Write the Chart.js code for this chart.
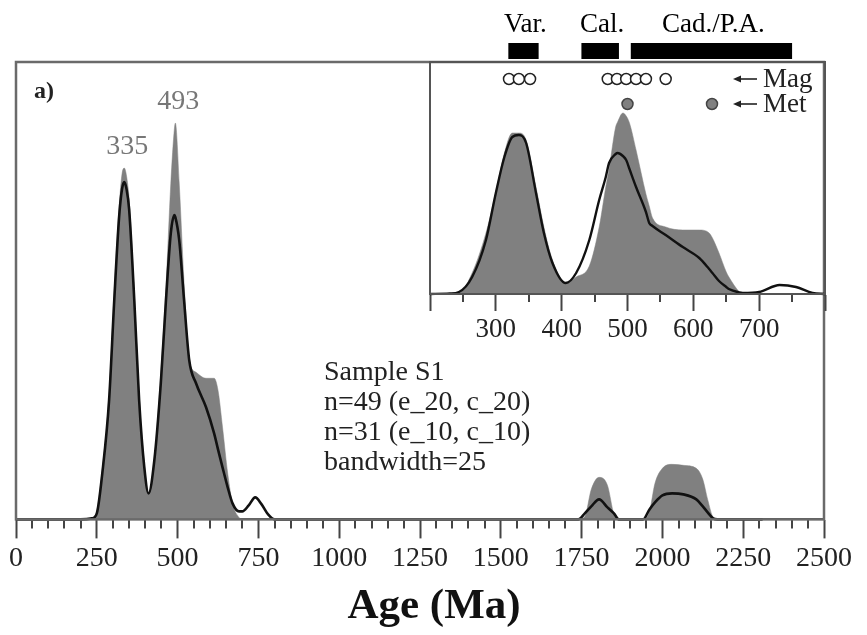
<!DOCTYPE html>
<html>
<head>
<meta charset="utf-8">
<script src="https://cdn.jsdelivr.net/npm/chart.js@4.4.1/dist/chart.umd.min.js"></script>
<style>
  body { margin: 0; background: #fff; }
  #wrap { position: relative; width: 867px; height: 635px; }
  #wrap canvas { position: absolute; left: 0; top: 0; }
</style>
</head>
<body>
<div id="wrap">
  <canvas id="mainChart" width="867" height="635"></canvas>
  <canvas id="insetChart" width="867" height="635"></canvas>
</div>
<script>
// main panel (0-2500 Ma), relative density, arbitrary units
const mainAges  = [0, 200, 235, 250, 267, 288, 304, 319, 328, 335, 342, 350, 366, 381, 397, 410, 428, 448, 464, 479, 490, 493, 505, 520, 536, 557, 588, 613, 625, 639, 655, 670, 690, 700, 720, 740, 760, 780, 800, 1740, 1760, 1780, 1804, 1830, 1850, 1865, 1940, 1960, 1977, 2000, 2030, 2065, 2105, 2125, 2140, 2157, 2170, 2310];
const mainGrey  = [0, 0, 0, 8, 50, 125, 228, 312, 345, 351, 343, 320, 225, 124, 55, 26, 60, 146, 232, 336, 390, 396, 336, 236, 159, 147, 141, 141, 129, 92, 46, 16, 2, 0, 0, 0, 0, 0, 0, 0, 3, 30, 42, 34, 5, 0, 0, 8, 36, 51, 55, 54, 51, 40, 20, 2, 0, 0];
const mainBlack = [0, 0, 1, 6, 46, 119, 219, 302, 330, 337, 330, 310, 219, 119, 52, 26, 59, 136, 219, 286, 304, 302, 279, 219, 159, 136, 112, 86, 70, 52, 32, 16, 8, 8, 14, 22, 15, 5, 0, 0, 6, 13, 20, 12, 6, 0, 0, 10, 17, 24, 26, 25, 20, 13, 7, 1, 0, 0];
const mainTickValues = [0, 250, 500, 750, 1000, 1250, 1500, 1750, 2000, 2250, 2500];
const peakAges = [335, 493];
const peakLabels = ['335', '493'];
const sampleLines = ['Sample S1', 'n=49 (e_20, c_20)', 'n=31 (e_10, c_10)', 'bandwidth=25'];

// inset (200-800 Ma)
const insetAges  = [200, 230, 244, 264, 285, 300, 313, 325, 335, 346, 361, 373, 386, 406, 422, 442, 457, 467, 472, 482, 485, 493, 498, 503, 513, 528, 533, 538, 558, 584, 609, 624, 629, 639, 650, 654, 670, 675, 700, 731, 756, 781, 800];
const insetGrey  = [0, 0.5, 1, 21, 61, 102, 141, 161, 161, 154, 107, 67, 34, 11, 17, 28, 67, 107, 125, 167, 172, 181, 178, 171, 144, 100, 88, 76, 67, 64, 64, 61, 56, 41, 22, 17, 2, 0, 0, 0, 0, 0, 0];
const insetBlack = [0, 0.5, 2, 17, 54, 101, 137, 157, 159, 151, 101, 61, 31, 11, 21, 54, 94, 117, 131, 140, 141, 138, 134, 125, 107, 82, 71, 68, 59, 47, 36, 25, 21, 13, 7, 5, 1.5, 1, 2, 9, 7, 1, 0];
const insetTickValues = [200, 300, 400, 500, 600, 700, 800];
const magAges = [320, 335, 352, 470, 484, 498, 513, 528, 558];
const metAges = [500];
const provinces = ['Var.', 'Cal.', 'Cad./P.A.'];
const provinceStart = [319, 430, 505];
const provinceEnd = [365, 487, 750];

const GREY = '#808080';
const SERIF = "'Liberation Serif', 'Times New Roman', serif";
Chart.defaults.font.family = SERIF;
Chart.defaults.color = '#222';

function pts(xs, ys) {
    return xs.map((x, i) => ({ x: x, y: ys[i] }));
}

const mainDecor = {
    id: 'mainDecor',
    afterDraw(chart) {
        const ctx = chart.ctx;
        const a = chart.chartArea;
        const xs = chart.scales.x;
        ctx.save();
        // minor ticks every 50 Ma
        ctx.strokeStyle = '#444';
        ctx.lineWidth = 2;
        for (let v = 50; v < 2500; v += 50) {
            if (v % 250 === 0) continue;
            const px = Math.round(xs.getPixelForValue(v));
            ctx.beginPath();
            ctx.moveTo(px, a.bottom);
            ctx.lineTo(px, a.bottom + 9);
            ctx.stroke();
        }
        // frame
        ctx.strokeStyle = '#6a6a6a';
        ctx.lineWidth = 2.5;
        ctx.strokeRect(a.left, a.top, a.right - a.left, a.bottom - a.top);

        // peak labels
        ctx.fillStyle = '#777';
        ctx.font = '28px ' + SERIF;
        ctx.textAlign = 'center';
        ctx.textBaseline = 'middle';
        const ys = chart.scales.y;
        peakAges.forEach((age, i) => {
            const idx = mainAges.indexOf(age);
            const top = Math.max(mainGrey[idx], mainBlack[idx]);
            ctx.fillText(peakLabels[i], xs.getPixelForValue(age) + 3, ys.getPixelForValue(top) - 21);
        });

        // axis title (sits a little right of centre in the original)
        ctx.fillStyle = '#111';
        ctx.font = 'bold 43px ' + SERIF;
        ctx.fillText('Age (Ma)', 434, 607);

        // panel letter
        ctx.fillStyle = '#222';
        ctx.font = 'bold 24px ' + SERIF;
        ctx.textAlign = 'left';
        ctx.fillText('a)', 34, 92);

        // sample info
        ctx.font = '28px ' + SERIF;
        sampleLines.forEach((t, i) => {
            ctx.fillText(t, 324, 373 + i * 30);
        });
        ctx.restore();
    }
};

new Chart(document.getElementById('mainChart'), {
    type: 'line',
    data: {
        datasets: [
            {
                label: 'all',
                data: pts(mainAges, mainBlack),
                borderColor: '#111',
                borderWidth: 2.6,
                pointRadius: 0,
                fill: false,
                cubicInterpolationMode: 'monotone',
                order: 0,
                clip: 6
            },
            {
                label: 'concordant',
                data: pts(mainAges, mainGrey),
                borderColor: GREY,
                borderWidth: 0.5,
                backgroundColor: GREY,
                pointRadius: 0,
                fill: 'origin',
                cubicInterpolationMode: 'monotone',
                order: 1,
                clip: 6
            }
        ]
    },
    options: {
        responsive: false,
        animation: false,
        layout: { padding: { top: 62, left: 16, right: 43, bottom: 57 } },
        plugins: { legend: { display: false }, tooltip: { enabled: false } },
        scales: {
            x: {
                type: 'linear',
                min: 0,
                max: 2500,
                afterBuildTicks: s => { s.ticks = mainTickValues.map(v => ({ value: v })); },
                ticks: {
                    autoSkip: false,
                    maxRotation: 0,
                    padding: 3,
                    color: '#222',
                    font: { size: 28 },
                    callback: v => String(v)
                },
                grid: { drawOnChartArea: false, tickLength: 19, tickWidth: 2, tickColor: '#444' },
                border: { display: true, color: '#444', width: 2 }
            },
            y: { display: false, min: 0, max: 457 }
        }
    },
    plugins: [mainDecor]
});

const insetDecor = {
    id: 'insetDecor',
    afterDraw(chart) {
        const ctx = chart.ctx;
        const a = chart.chartArea;
        const xs = chart.scales.x;
        ctx.save();
        // minor ticks every 50 Ma
        ctx.strokeStyle = '#444';
        ctx.lineWidth = 2;
        for (let v = 250; v < 800; v += 100) {
            const px = Math.round(xs.getPixelForValue(v));
            ctx.beginPath();
            ctx.moveTo(px, a.bottom);
            ctx.lineTo(px, a.bottom + 8);
            ctx.stroke();
        }
        // frame
        ctx.strokeStyle = '#555';
        ctx.lineWidth = 2;
        ctx.strokeRect(a.left, a.top, a.right - a.left, a.bottom - a.top);

        // orogen bars and names
        ctx.fillStyle = '#000';
        ctx.font = '27px ' + SERIF;
        ctx.textAlign = 'center';
        ctx.textBaseline = 'middle';
        provinces.forEach((name, i) => {
            const x0 = xs.getPixelForValue(provinceStart[i]);
            const x1 = xs.getPixelForValue(provinceEnd[i]);
            ctx.fillRect(x0, a.top - 19, x1 - x0, 16);
            ctx.fillText(name, (x0 + x1) / 2 + 2, a.top - 37);
        });

        // legend: Mag / Met
        ctx.strokeStyle = '#222';
        ctx.lineWidth = 1.6;
        [[79, 'Mag'], [104, 'Met']].forEach(([y, t]) => {
            ctx.beginPath();
            ctx.moveTo(757, y);
            ctx.lineTo(737, y);
            ctx.stroke();
            ctx.beginPath();
            ctx.moveTo(733, y);
            ctx.lineTo(741, y - 3.5);
            ctx.lineTo(741, y + 3.5);
            ctx.closePath();
            ctx.fillStyle = '#222';
            ctx.fill();
            ctx.textAlign = 'left';
            ctx.fillText(t, 763, y + 1);
        });
        ctx.beginPath();
        ctx.arc(712, 104, 5.5, 0, Math.PI * 2);
        ctx.fillStyle = GREY;
        ctx.fill();
        ctx.strokeStyle = '#444';
        ctx.lineWidth = 1.5;
        ctx.stroke();
        ctx.restore();
    }
};

new Chart(document.getElementById('insetChart'), {
    type: 'line',
    data: {
        datasets: [
            {
                label: 'Mag',
                data: magAges.map(a => ({ x: a, y: 215 })),
                showLine: false,
                pointRadius: 5.5,
                pointBackgroundColor: '#fff',
                pointBorderColor: '#222',
                pointBorderWidth: 1.5,
                order: 0
            },
            {
                label: 'Met',
                data: metAges.map(a => ({ x: a, y: 190 })),
                showLine: false,
                pointRadius: 5.5,
                pointBackgroundColor: GREY,
                pointBorderColor: '#444',
                pointBorderWidth: 1.5,
                order: 0
            },
            {
                label: 'all',
                data: pts(insetAges, insetBlack),
                borderColor: '#111',
                borderWidth: 2.4,
                pointRadius: 0,
                fill: false,
                cubicInterpolationMode: 'monotone',
                order: 1,
                clip: 4
            },
            {
                label: 'concordant',
                data: pts(insetAges, insetGrey),
                borderColor: GREY,
                borderWidth: 0.5,
                backgroundColor: GREY,
                pointRadius: 0,
                fill: 'origin',
                cubicInterpolationMode: 'monotone',
                order: 2,
                clip: 4
            }
        ]
    },
    options: {
        responsive: false,
        animation: false,
        layout: { padding: { top: 62, left: 430, right: 42, bottom: 285.6 } },
        plugins: { legend: { display: false }, tooltip: { enabled: false } },
        scales: {
            x: {
                type: 'linear',
                min: 200,
                max: 800,
                afterBuildTicks: s => { s.ticks = insetTickValues.map(v => ({ value: v })); },
                ticks: {
                    autoSkip: false,
                    maxRotation: 0,
                    padding: 3,
                    color: '#222',
                    font: { size: 27 },
                    callback: v => (v === 200 || v === 800) ? '' : String(v)
                },
                grid: { drawOnChartArea: false, tickLength: 17, tickWidth: 2, tickColor: '#444' },
                border: { display: true, color: '#333', width: 2 }
            },
            y: { display: false, min: 0, max: 232 }
        }
    },
    plugins: [insetDecor]
});
</script>
</body>
</html>
